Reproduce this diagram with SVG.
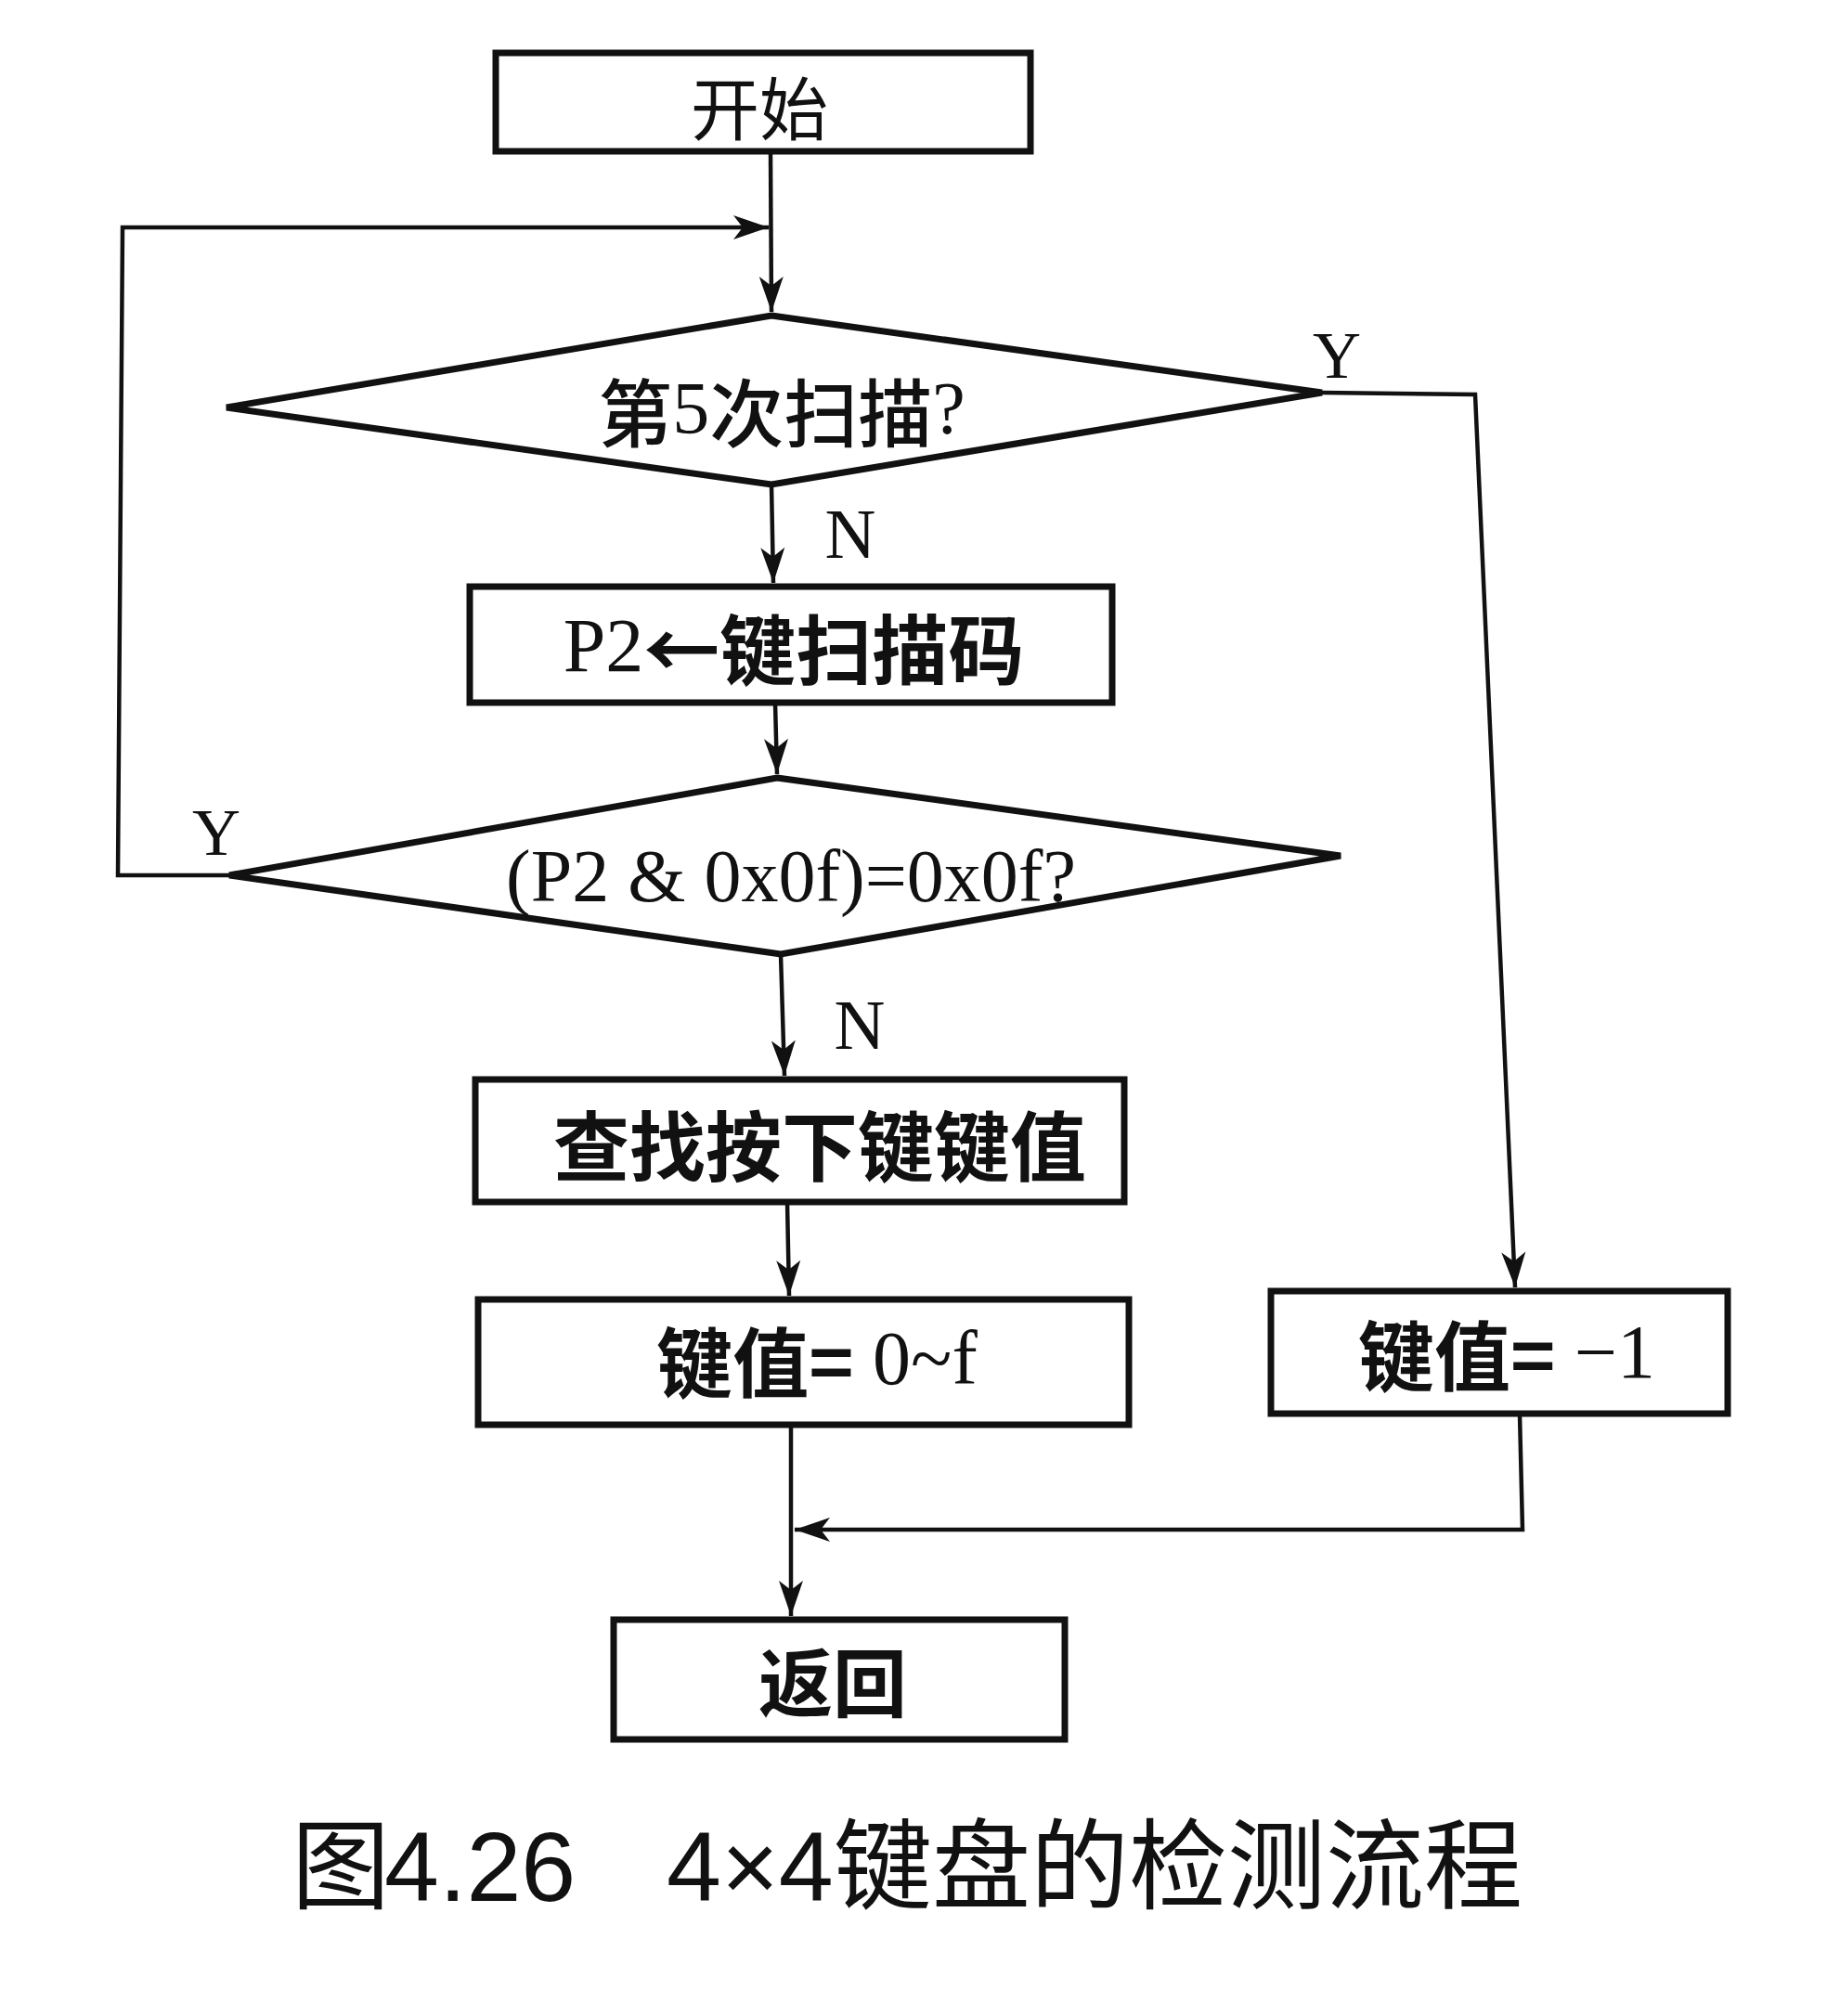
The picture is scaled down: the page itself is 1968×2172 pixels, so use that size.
<svg xmlns="http://www.w3.org/2000/svg" width="1968" height="2172" viewBox="0 0 1968 2172">
<style>
.box{fill:#fff;stroke:#111;stroke-width:7}
.dia{fill:#fff;stroke:#111;stroke-width:7;stroke-linejoin:miter}
.ln{fill:none;stroke:#111;stroke-width:4.5}
.cj{font-family:"Noto Sans CJK SC","Liberation Sans",sans-serif;font-weight:700;fill:#111;text-anchor:middle;dominant-baseline:central}
.sr{font-family:"Liberation Serif","Noto Sans CJK SC",serif;fill:#111;text-anchor:middle;dominant-baseline:central}
.mx{font-family:"Liberation Serif","Noto Sans CJK SC",serif;fill:#111;text-anchor:middle;dominant-baseline:central}
.cap{font-family:"Noto Sans CJK SC","Liberation Sans",sans-serif;fill:#111;font-size:106px;dominant-baseline:alphabetic}
.hz{font-family:"Noto Sans CJK SC",sans-serif;font-weight:700}
</style>
<defs>
<marker id="ah" markerUnits="userSpaceOnUse" markerWidth="44" markerHeight="30" refX="40" refY="15" orient="auto">
<path d="M40,15 L2,2 L12,15 L2,28 Z" fill="#111"/>
</marker>
</defs>
<rect width="1968" height="2172" fill="#fff"/>
<g id="connectors">
<polyline class="ln" points="830,163 831,336" marker-end="url(#ah)"/>
<polyline class="ln" points="247,943 127,943 132,245 828,245" marker-end="url(#ah)"/>
<polyline class="ln" points="831,522 833,628" marker-end="url(#ah)"/>
<polyline class="ln" points="835,757 837,834" marker-end="url(#ah)"/>
<polyline class="ln" points="841,1028 845,1159" marker-end="url(#ah)"/>
<polyline class="ln" points="848,1295 850,1396" marker-end="url(#ah)"/>
<polyline class="ln" points="1424,423 1589,425 1632,1387" marker-end="url(#ah)"/>
<polyline class="ln" points="1637,1523 1640,1648 856,1648" marker-end="url(#ah)"/>
<polyline class="ln" points="852,1535 852,1741" marker-end="url(#ah)"/>
<text class="sr" x="916" y="575" font-size="76">N</text>
<text class="sr" x="926" y="1104" font-size="76">N</text>
<text class="sr" x="1440" y="383" font-size="72">Y</text>
<text class="sr" x="233" y="897" font-size="72">Y</text>
</g>
<g id="start">
<rect class="box" x="534" y="57" width="576" height="106"/>
<text class="cj" x="818" y="112" font-size="74" style="font-weight:400">开始</text>
</g>
<g id="d1">
<polygon class="dia" points="831,340 1424,423 831,522 244,439"/>
<text class="mx" x="842" y="440" font-size="80"><tspan class="hz" style="font-weight:500">第</tspan>5<tspan class="hz" style="font-weight:500">次扫描</tspan>?</text>
</g>
<g id="p2">
<rect class="box" x="506" y="632" width="692" height="125"/>
<text class="mx" x="855" y="695" font-size="82">P2<tspan class="hz">←键扫描码</tspan></text>
</g>
<g id="d2">
<polygon class="dia" points="837,838 1444,922 841,1028 247,943"/>
<text class="sr" x="852" y="944" font-size="80">(P2 &amp; 0x0f)=0x0f?</text>
</g>
<g id="find">
<rect class="box" x="512" y="1163" width="699" height="132"/>
<text class="cj" x="883" y="1230" font-size="82">查找按下键键值</text>
</g>
<g id="val">
<rect class="box" x="515" y="1400" width="701" height="135"/>
<text class="mx" x="880" y="1463" font-size="82"><tspan class="hz">键值=</tspan> 0~f</text>
</g>
<g id="neg">
<rect class="box" x="1369" y="1391" width="492" height="132"/>
<text class="mx" x="1623" y="1456" font-size="82"><tspan class="hz">键值=</tspan> −1</text>
</g>
<g id="ret">
<rect class="box" x="661" y="1745" width="486" height="129"/>
<text class="cj" x="897" y="1808" font-size="80">返回</text>
</g>
<g id="caption">
<text class="cap" x="314" y="2048">图<tspan x="414" font-family="Liberation Sans">4.26</tspan><tspan x="718" font-family="Liberation Sans">4×4</tspan><tspan x="898">键盘的检测流程</tspan></text>
</g>
</svg>
